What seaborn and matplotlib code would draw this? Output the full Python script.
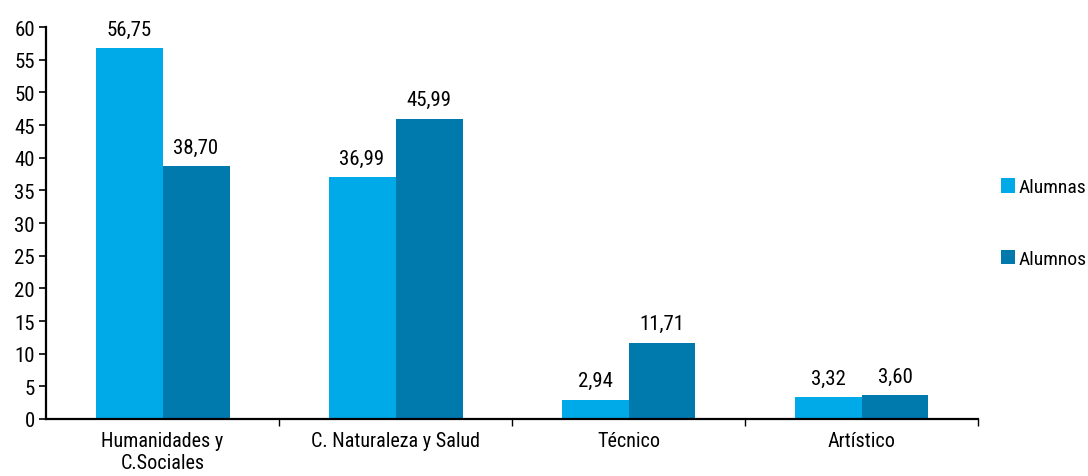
import matplotlib
matplotlib.use('Agg')
import matplotlib.pyplot as plt
import seaborn as sns
import pandas as pd
from matplotlib import font_manager

categorias = ['Humanidades y\nC.Sociales', 'C. Naturaleza y Salud', 'Técnico', 'Artístico']
alumnas = [56.75, 36.99, 2.94, 3.32]
alumnos = [38.70, 45.99, 11.71, 3.60]
series = ['Alumnas', 'Alumnos']
colores = ['#00A9E8', '#0079AD']

df = pd.DataFrame({
    'categoria': categorias * 2,
    'valor': alumnas + alumnos,
    'serie': [series[0]] * 4 + [series[1]] * 4,
})

sns.set_style('white')
nombres = {f.name for f in font_manager.fontManager.ttflist}
fam = 'Liberation Sans'
for cand in ['Liberation Sans Narrow', 'Arial Narrow', 'Nimbus Sans Narrow', 'Roboto Condensed', 'Open Sans Condensed']:
    if cand in nombres:
        fam = cand
        break
plt.rcParams['font.family'] = [fam, 'DejaVu Sans']
plt.rcParams['text.color'] = 'black'
plt.rcParams['xtick.color'] = 'black'
plt.rcParams['ytick.color'] = 'black'

fs = 14.5 if fam != 'Liberation Sans' else 12

fig = plt.figure(figsize=(10.88, 4.77), dpi=100)
ax = fig.add_axes([0.0423, 0.1195, 0.8566, 0.8215])

sns.barplot(data=df, x='categoria', y='valor', hue='serie', palette=colores,
            width=0.575, saturation=1, linewidth=0, ax=ax, legend=True)

for cont in ax.containers:
    ax.bar_label(cont, labels=[f'{v:.2f}'.replace('.', ',') for v in cont.datavalues],
                 padding=7, fontsize=fs + 0.5)

ax.set_ylim(0, 60)
ax.set_xlim(-0.5, 3.5)
ax.set_yticks(range(0, 61, 5))
ax.set_xlabel('')
ax.set_ylabel('')
ax.tick_params(axis='y', labelsize=fs + 0.5, length=5, width=1.2, direction='out', left=True, pad=3)
ax.tick_params(axis='x', labelsize=fs, length=0, pad=9)
ax.set_xticks([0.5, 1.5, 2.5, 3.5], minor=True)
ax.tick_params(axis='x', which='minor', length=5, width=1, bottom=True, direction='out')
for s in ['top', 'right']:
    ax.spines[s].set_visible(False)
for s in ['left', 'bottom']:
    ax.spines[s].set_linewidth(1.6)
    ax.spines[s].set_color('black')

ax.legend(handles=ax.get_legend().legend_handles, labels=series, loc='center left',
          bbox_to_anchor=(1.012, 0.50), frameon=False, fontsize=fs - 0.5,
          handlelength=0.75, handleheight=0.75, handletextpad=0.15, labelspacing=2.75,
          borderaxespad=0.2)

fig.savefig('out.png', dpi=100)
